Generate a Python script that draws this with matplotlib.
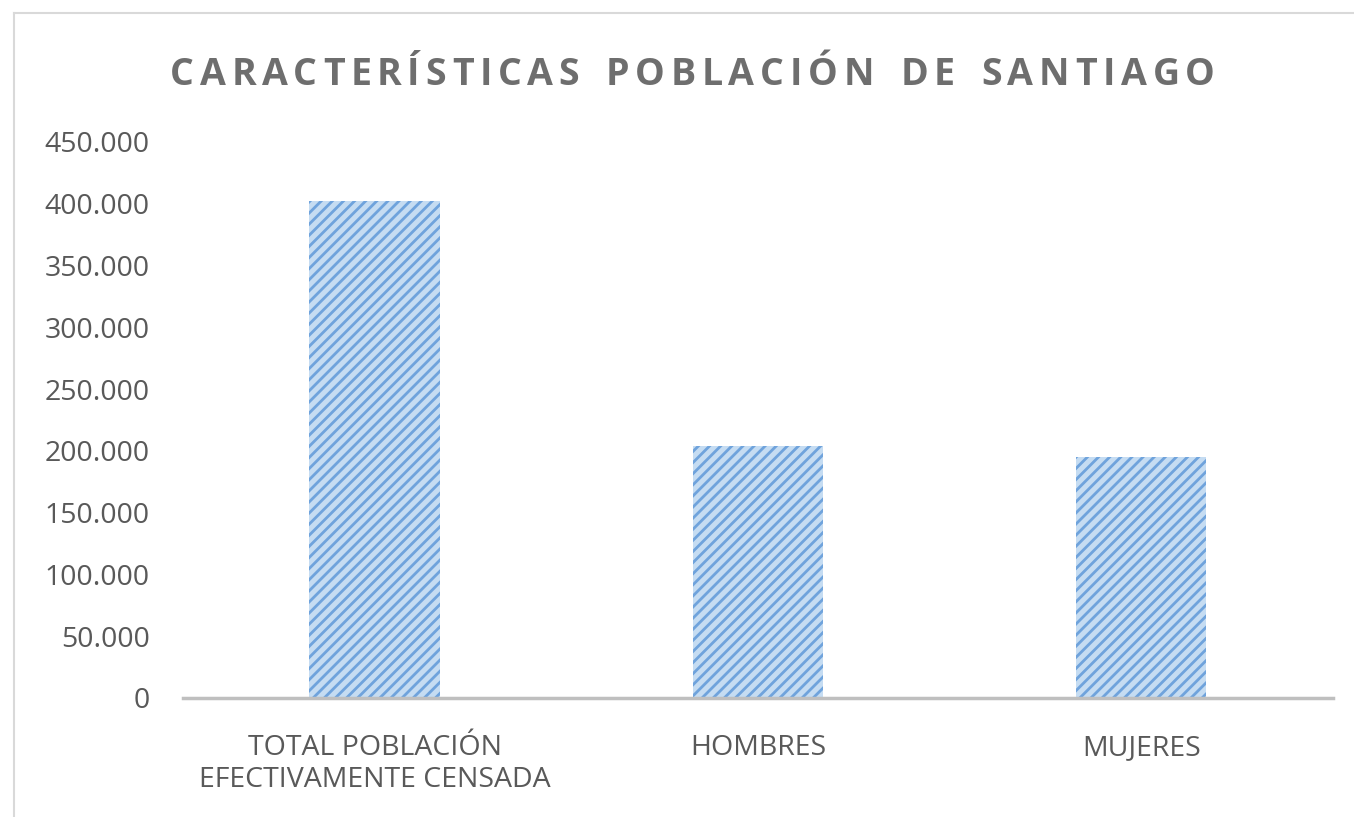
import matplotlib.pyplot as plt
from matplotlib.lines import Line2D
from matplotlib.ticker import FuncFormatter

categories = ['TOTAL POBLACIÓN\nEFECTIVAMENTE CENSADA', 'HOMBRES', 'MUJERES']
values = [402000, 204000, 195000]
title = 'CARACTERÍSTICAS POBLACIÓN DE SANTIAGO'

plt.rcParams['font.family'] = ['Open Sans', 'DejaVu Sans']
plt.rcParams['hatch.linewidth'] = 2.0
plt.rcParams['hatch.color'] = '#6FA3DC'

W, H = 1354, 817
fig = plt.figure(figsize=(W / 100, H / 100), dpi=100)
ax = fig.add_axes([183 / W, 1 - 698 / H, (1333 - 183) / W, (698 - 142) / H])

ax.bar(range(len(values)), values, width=0.34, color='#C5DCF2',
       edgecolor='#6FA3DC', linewidth=0, hatch='///')

ax.set_xlim(-0.5, len(values) - 0.5)
ax.set_ylim(0, 450000)
ax.set_yticks(range(0, 450001, 50000))
ax.yaxis.set_major_formatter(FuncFormatter(lambda v, p: f'{int(v):,}'.replace(',', '.')))
ax.set_xticks(range(len(values)))
ax.set_xticklabels(categories, linespacing=1.2)

gray = '#595959'
ax.tick_params(axis='both', length=0, labelsize=20.5, labelcolor=gray)
ax.tick_params(axis='y', pad=24)
ax.tick_params(axis='x', pad=26)
for s in ['top', 'right', 'left']:
    ax.spines[s].set_visible(False)
ax.spines['bottom'].set_color('#BFBFBF')
ax.spines['bottom'].set_linewidth(2.5)

# outer chart frame (only left and top edge visible in the crop)
fig.add_artist(Line2D([14 / W, 14 / W], [0, 1 - 13 / H], transform=fig.transFigure,
                      color='#D9D9D9', linewidth=1.5))
fig.add_artist(Line2D([14 / W, 1], [1 - 13 / H, 1 - 13 / H], transform=fig.transFigure,
                      color='#D9D9D9', linewidth=1.5))

# title with letter spacing, laid out char by char
renderer = fig.canvas.get_renderer()
fs = 27
widths = []
for ch in title:
    t = fig.text(0, 0, ch if ch != ' ' else 'I', fontsize=fs, fontweight='bold')
    w = t.get_window_extent(renderer).width
    if ch == ' ':
        w *= 1.2
    widths.append(w)
    t.remove()
target = 1215 - 170
track = (target - sum(widths)) / (len(title) - 1)
x = 170
for ch, w in zip(title, widths):
    if ch != ' ':
        fig.text(x / W, 1 - 75 / H, ch, fontsize=fs, fontweight='bold',
                 color='#6E6E6E', va='center', ha='left')
    x += w + track

fig.savefig('out.png', dpi=100)
